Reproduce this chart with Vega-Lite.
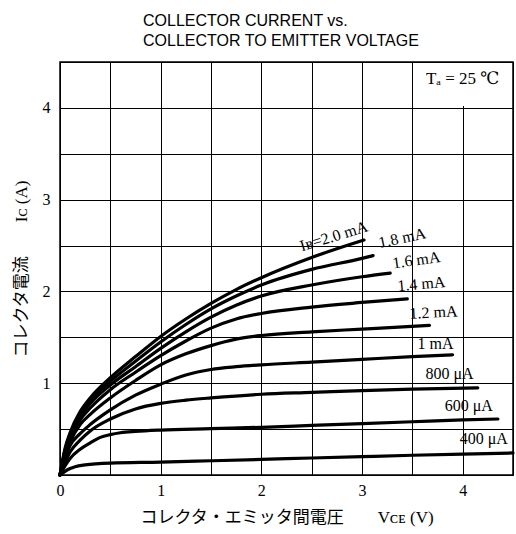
{
  "$schema": "https://vega.github.io/schema/vega-lite/v6.json",
  "width": 453,
  "height": 413,
  "autosize": "none",
  "padding": {"left": 60, "top": 62, "right": 3, "bottom": 59},
  "background": "white",
  "title": {
    "text": ["COLLECTOR CURRENT vs.", "COLLECTOR TO EMITTER VOLTAGE"],
    "font": "Liberation Sans",
    "fontSize": 16,
    "fontWeight": "normal",
    "color": "black",
    "anchor": "start",
    "frame": "group",
    "dx": 83,
    "lineHeight": 20,
    "offset": 5
  },
  "config": {
    "view": {"stroke": "black", "strokeWidth": 1.5},
    "axis": {
      "grid": true,
      "gridColor": "black",
      "gridOpacity": 1,
      "gridWidth": 1,
      "ticks": false,
      "domain": false,
      "format": ".0f",
      "labelFont": "Liberation Serif",
      "labelFontSize": 16,
      "labelColor": "black",
      "labelFlush": false,
      "labelOverlap": false,
      "labelBound": false,
      "titleFont": "Liberation Serif, Noto Sans CJK JP",
      "titleFontSize": 17,
      "titleFontWeight": "normal",
      "titleColor": "black"
    }
  },
  "datasets": {
    "curves": [
      {"ib": "0.4", "v": 0, "i": 0}, {"ib": "0.4", "v": 0.05, "i": 0.04}, {"ib": "0.4", "v": 0.1, "i": 0.07}, {"ib": "0.4", "v": 0.15, "i": 0.09}, {"ib": "0.4", "v": 0.25, "i": 0.11}, {"ib": "0.4", "v": 0.5, "i": 0.13}, {"ib": "0.4", "v": 1.0, "i": 0.14}, {"ib": "0.4", "v": 1.5, "i": 0.155}, {"ib": "0.4", "v": 2.0, "i": 0.17}, {"ib": "0.4", "v": 2.5, "i": 0.185}, {"ib": "0.4", "v": 3.0, "i": 0.2}, {"ib": "0.4", "v": 3.5, "i": 0.215}, {"ib": "0.4", "v": 4.0, "i": 0.228}, {"ib": "0.4", "v": 4.5, "i": 0.24},
      {"ib": "0.6", "v": 0, "i": 0}, {"ib": "0.6", "v": 0.05, "i": 0.1}, {"ib": "0.6", "v": 0.1, "i": 0.18}, {"ib": "0.6", "v": 0.2, "i": 0.28}, {"ib": "0.6", "v": 0.3, "i": 0.35}, {"ib": "0.6", "v": 0.4, "i": 0.41}, {"ib": "0.6", "v": 0.5, "i": 0.44}, {"ib": "0.6", "v": 0.6, "i": 0.46}, {"ib": "0.6", "v": 0.75, "i": 0.475}, {"ib": "0.6", "v": 1.0, "i": 0.49}, {"ib": "0.6", "v": 1.5, "i": 0.505}, {"ib": "0.6", "v": 2.0, "i": 0.52}, {"ib": "0.6", "v": 2.5, "i": 0.54}, {"ib": "0.6", "v": 3.0, "i": 0.56}, {"ib": "0.6", "v": 3.5, "i": 0.58}, {"ib": "0.6", "v": 4.0, "i": 0.6}, {"ib": "0.6", "v": 4.35, "i": 0.61},
      {"ib": "0.8", "v": 0, "i": 0}, {"ib": "0.8", "v": 0.05, "i": 0.14}, {"ib": "0.8", "v": 0.1, "i": 0.25}, {"ib": "0.8", "v": 0.2, "i": 0.38}, {"ib": "0.8", "v": 0.3, "i": 0.48}, {"ib": "0.8", "v": 0.5, "i": 0.61}, {"ib": "0.8", "v": 0.75, "i": 0.72}, {"ib": "0.8", "v": 1.0, "i": 0.78}, {"ib": "0.8", "v": 1.25, "i": 0.815}, {"ib": "0.8", "v": 1.5, "i": 0.84}, {"ib": "0.8", "v": 2.0, "i": 0.88}, {"ib": "0.8", "v": 2.5, "i": 0.9}, {"ib": "0.8", "v": 3.0, "i": 0.92}, {"ib": "0.8", "v": 3.5, "i": 0.935}, {"ib": "0.8", "v": 4.15, "i": 0.95},
      {"ib": "1.0", "v": 0, "i": 0}, {"ib": "1.0", "v": 0.05, "i": 0.18}, {"ib": "1.0", "v": 0.1, "i": 0.32}, {"ib": "1.0", "v": 0.2, "i": 0.45}, {"ib": "1.0", "v": 0.3, "i": 0.55}, {"ib": "1.0", "v": 0.5, "i": 0.71}, {"ib": "1.0", "v": 0.75, "i": 0.87}, {"ib": "1.0", "v": 1.0, "i": 0.99}, {"ib": "1.0", "v": 1.25, "i": 1.09}, {"ib": "1.0", "v": 1.5, "i": 1.15}, {"ib": "1.0", "v": 1.75, "i": 1.18}, {"ib": "1.0", "v": 2.0, "i": 1.2}, {"ib": "1.0", "v": 2.5, "i": 1.23}, {"ib": "1.0", "v": 3.0, "i": 1.26}, {"ib": "1.0", "v": 3.5, "i": 1.29}, {"ib": "1.0", "v": 3.9, "i": 1.31},
      {"ib": "1.2", "v": 0, "i": 0}, {"ib": "1.2", "v": 0.05, "i": 0.21}, {"ib": "1.2", "v": 0.1, "i": 0.36}, {"ib": "1.2", "v": 0.2, "i": 0.55}, {"ib": "1.2", "v": 0.3, "i": 0.66}, {"ib": "1.2", "v": 0.5, "i": 0.84}, {"ib": "1.2", "v": 0.75, "i": 1.03}, {"ib": "1.2", "v": 1.0, "i": 1.2}, {"ib": "1.2", "v": 1.25, "i": 1.32}, {"ib": "1.2", "v": 1.5, "i": 1.41}, {"ib": "1.2", "v": 1.75, "i": 1.48}, {"ib": "1.2", "v": 2.0, "i": 1.52}, {"ib": "1.2", "v": 2.5, "i": 1.56}, {"ib": "1.2", "v": 3.0, "i": 1.59}, {"ib": "1.2", "v": 3.67, "i": 1.63},
      {"ib": "1.4", "v": 0, "i": 0}, {"ib": "1.4", "v": 0.05, "i": 0.23}, {"ib": "1.4", "v": 0.1, "i": 0.39}, {"ib": "1.4", "v": 0.2, "i": 0.6}, {"ib": "1.4", "v": 0.3, "i": 0.73}, {"ib": "1.4", "v": 0.5, "i": 0.93}, {"ib": "1.4", "v": 0.75, "i": 1.12}, {"ib": "1.4", "v": 1.0, "i": 1.3}, {"ib": "1.4", "v": 1.25, "i": 1.46}, {"ib": "1.4", "v": 1.5, "i": 1.6}, {"ib": "1.4", "v": 1.75, "i": 1.7}, {"ib": "1.4", "v": 2.0, "i": 1.76}, {"ib": "1.4", "v": 2.5, "i": 1.83}, {"ib": "1.4", "v": 3.0, "i": 1.88}, {"ib": "1.4", "v": 3.45, "i": 1.92},
      {"ib": "1.6", "v": 0, "i": 0}, {"ib": "1.6", "v": 0.05, "i": 0.25}, {"ib": "1.6", "v": 0.1, "i": 0.42}, {"ib": "1.6", "v": 0.2, "i": 0.64}, {"ib": "1.6", "v": 0.3, "i": 0.78}, {"ib": "1.6", "v": 0.5, "i": 0.98}, {"ib": "1.6", "v": 0.75, "i": 1.18}, {"ib": "1.6", "v": 1.0, "i": 1.38}, {"ib": "1.6", "v": 1.25, "i": 1.56}, {"ib": "1.6", "v": 1.5, "i": 1.72}, {"ib": "1.6", "v": 1.75, "i": 1.85}, {"ib": "1.6", "v": 2.0, "i": 1.95}, {"ib": "1.6", "v": 2.5, "i": 2.07}, {"ib": "1.6", "v": 3.0, "i": 2.16}, {"ib": "1.6", "v": 3.28, "i": 2.2},
      {"ib": "1.8", "v": 0, "i": 0}, {"ib": "1.8", "v": 0.05, "i": 0.27}, {"ib": "1.8", "v": 0.1, "i": 0.44}, {"ib": "1.8", "v": 0.2, "i": 0.67}, {"ib": "1.8", "v": 0.3, "i": 0.81}, {"ib": "1.8", "v": 0.5, "i": 1.02}, {"ib": "1.8", "v": 0.75, "i": 1.24}, {"ib": "1.8", "v": 1.0, "i": 1.45}, {"ib": "1.8", "v": 1.25, "i": 1.64}, {"ib": "1.8", "v": 1.5, "i": 1.81}, {"ib": "1.8", "v": 1.75, "i": 1.95}, {"ib": "1.8", "v": 2.0, "i": 2.07}, {"ib": "1.8", "v": 2.5, "i": 2.24}, {"ib": "1.8", "v": 3.0, "i": 2.36}, {"ib": "1.8", "v": 3.11, "i": 2.39},
      {"ib": "2.0", "v": 0, "i": 0}, {"ib": "2.0", "v": 0.05, "i": 0.29}, {"ib": "2.0", "v": 0.1, "i": 0.46}, {"ib": "2.0", "v": 0.2, "i": 0.69}, {"ib": "2.0", "v": 0.3, "i": 0.84}, {"ib": "2.0", "v": 0.5, "i": 1.06}, {"ib": "2.0", "v": 0.75, "i": 1.29}, {"ib": "2.0", "v": 1.0, "i": 1.51}, {"ib": "2.0", "v": 1.25, "i": 1.7}, {"ib": "2.0", "v": 1.5, "i": 1.87}, {"ib": "2.0", "v": 1.75, "i": 2.02}, {"ib": "2.0", "v": 2.0, "i": 2.15}, {"ib": "2.0", "v": 2.5, "i": 2.37}, {"ib": "2.0", "v": 3.02, "i": 2.56}
    ],
    "labels": [
      {"label": "Iʙ=2.0 mA", "v": 2.72, "i": 2.6},
      {"label": "1.8 mA", "v": 3.4, "i": 2.58},
      {"label": "1.6 mA", "v": 3.54, "i": 2.34},
      {"label": "1.4 mA", "v": 3.59, "i": 2.08},
      {"label": "1.2 mA", "v": 3.71, "i": 1.77},
      {"label": "1 mA", "v": 3.73, "i": 1.43},
      {"label": "800 μA", "v": 3.87, "i": 1.1},
      {"label": "600 μA", "v": 4.06, "i": 0.75},
      {"label": "400 μA", "v": 4.21, "i": 0.39}
    ],
    "note": [{"label": "Tₐ = 25 ℃", "v": 4.0, "i": 4.31}]
  },
  "encoding": {
    "x": {
      "field": "v",
      "type": "quantitative",
      "scale": {"domain": [0, 4.5], "nice": false},
      "axis": {
        "values": [0, 0.5, 1, 1.5, 2, 2.5, 3, 3.5, 4, 4.5],
        "labelExpr": "datum.value % 1 === 0 && datum.value < 4.5 ? datum.label : ''",
        "labelPadding": 7,
        "title": "コレクタ・エミッタ間電圧　　Vᴄᴇ (V)",
        "titlePadding": 11
      }
    },
    "y": {
      "field": "i",
      "type": "quantitative",
      "scale": {"domain": [0, 4.5], "nice": false},
      "axis": {
        "values": [0, 0.5, 1, 1.5, 2, 2.5, 3, 3.5, 4, 4.5],
        "labelExpr": "datum.value % 1 === 0 && datum.value > 0 && datum.value < 4.5 ? datum.label : ''",
        "labelPadding": 10,
        "title": "コレクタ電流　　Iᴄ  (A)",
        "titlePadding": 12
      }
    }
  },
  "layer": [
    {
      "data": {"name": "note"},
      "mark": {"type": "rect", "fill": "white", "stroke": null},
      "encoding": {
        "x": {"datum": 3.52, "type": "quantitative"},
        "x2": {"datum": 4.49},
        "y": {"datum": 4.02, "type": "quantitative"},
        "y2": {"datum": 4.49}
      }
    },
    {
      "data": {"name": "curves"},
      "mark": {"type": "line", "color": "black", "strokeWidth": 3.2, "interpolate": "monotone", "strokeCap": "round"},
      "encoding": {"detail": {"field": "ib"}}
    },
    {
      "data": {"name": "labels"},
      "transform": [{"filter": "datum.label === 'Iʙ=2.0 mA'"}],
      "mark": {"type": "text", "font": "Liberation Serif, DejaVu Serif", "fontSize": 16, "color": "black", "angle": -17, "align": "center", "baseline": "middle"},
      "encoding": {"text": {"field": "label"}}
    },
    {
      "data": {"name": "labels"},
      "transform": [{"filter": "datum.label === '1.8 mA'"}],
      "mark": {"type": "text", "font": "Liberation Serif", "fontSize": 16, "color": "black", "angle": -12, "align": "center", "baseline": "middle"},
      "encoding": {"text": {"field": "label"}}
    },
    {
      "data": {"name": "labels"},
      "transform": [{"filter": "datum.label === '1.6 mA'"}],
      "mark": {"type": "text", "font": "Liberation Serif", "fontSize": 16, "color": "black", "angle": -8, "align": "center", "baseline": "middle"},
      "encoding": {"text": {"field": "label"}}
    },
    {
      "data": {"name": "labels"},
      "transform": [{"filter": "datum.label === '1.4 mA'"}],
      "mark": {"type": "text", "font": "Liberation Serif", "fontSize": 16, "color": "black", "angle": -5, "align": "center", "baseline": "middle"},
      "encoding": {"text": {"field": "label"}}
    },
    {
      "data": {"name": "labels"},
      "transform": [{"filter": "datum.label === '1.2 mA'"}],
      "mark": {"type": "text", "font": "Liberation Serif", "fontSize": 16, "color": "black", "angle": -3, "align": "center", "baseline": "middle"},
      "encoding": {"text": {"field": "label"}}
    },
    {
      "data": {"name": "labels"},
      "transform": [{"filter": "indexof(['1 mA','800 μA','600 μA','400 μA'], datum.label) >= 0"}],
      "mark": {"type": "text", "font": "Liberation Serif", "fontSize": 16, "color": "black", "align": "center", "baseline": "middle"},
      "encoding": {"text": {"field": "label"}}
    },
    {
      "data": {"name": "note"},
      "mark": {"type": "text", "font": "Liberation Serif, DejaVu Serif", "fontSize": 17, "color": "black", "align": "center", "baseline": "middle"},
      "encoding": {"text": {"field": "label"}}
    }
  ]
}
